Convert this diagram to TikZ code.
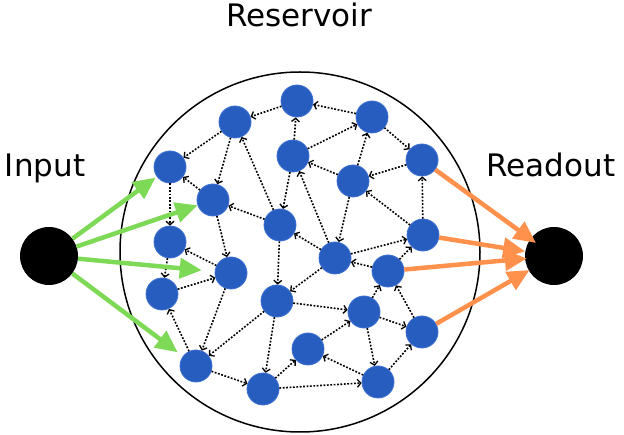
\documentclass[tikz,border=0pt]{standalone}
\usepackage{fontspec}
\setmainfont{DejaVu Sans}
\usetikzlibrary{arrows.meta}
\definecolor{resblue}{RGB}{39,93,190}
\definecolor{resedge}{RGB}{60,110,210}
\definecolor{ingreen}{RGB}{126,217,87}
\definecolor{outorange}{RGB}{255,145,77}
\tikzset{
  neuron/.style={circle,minimum size=32pt,inner sep=0pt,fill=resblue,draw=resedge,line width=0.8pt},
  bignode/.style={circle,minimum size=58pt,inner sep=0pt,fill=black},
  link/.style={line width=1.6pt,dash pattern=on 1.8pt off 1.6pt,-{Straight Barb[length=3.5pt,width=8pt,line width=1.3pt]}},
  inarrow/.style={draw=ingreen,line width=4.5pt,-{Triangle[length=22pt,width=20pt]}},
  outarrow/.style={draw=outorange,line width=4.5pt,-{Triangle[length=22pt,width=20pt]}},
  lbl/.style={font=\fontsize{31}{36}\selectfont,anchor=base,inner sep=0pt}
}
\begin{document}
\begin{tikzpicture}[x=1pt,y=-1pt]
\useasboundingbox (0,0) rectangle (624,435);
\fill[white] (0,0) rectangle (624,435);
% reservoir circle
\node[circle,draw=black,line width=1.5pt,minimum size=360pt,inner sep=0pt] (res) at (300,252) {};
% labels
\node[lbl] (tres) at (299,26.7) {Reservoir};
\node[lbl] (tin) at (45,176.7) {Input};
\node[lbl] (tout) at (551,176.7) {Readout};
% neurons
\node[neuron] (A) at (297,101) {};
\node[neuron] (B) at (235,122) {};
\node[neuron] (C) at (293,156) {};
\node[neuron] (D) at (170,167) {};
\node[neuron] (E) at (213,200) {};
\node[neuron] (F) at (280,225) {};
\node[neuron] (G) at (170,242) {};
\node[neuron] (H) at (372,117) {};
\node[neuron] (I) at (422,160) {};
\node[neuron] (J) at (353,181) {};
\node[neuron] (K) at (423,235) {};
\node[neuron] (L) at (335,258) {};
\node[neuron] (M) at (231,273) {};
\node[neuron] (N) at (162,294) {};
\node[neuron] (O) at (277,301) {};
\node[neuron] (P) at (196,366) {};
\node[neuron] (Q) at (263,389) {};
\node[neuron] (R) at (308,349) {};
\node[neuron] (T) at (388,271) {};
\node[neuron] (U) at (364,312) {};
\node[neuron] (V) at (422,332) {};
\node[neuron] (W) at (378,382) {};
% input / readout
\node[bignode] (in) at (49,256) {};
\node[bignode] (out) at (554,256) {};
% links
\foreach \a/\b in {A/B,B/D,B/E,F/B,C/A,C/F,E/D,D/G,F/E,H/A,C/H,J/C,L/C,L/F,H/I,I/J,J/H,K/I,K/J,J/L,L/K,M/G,G/N,E/M,N/M,P/N,M/P,O/P,P/Q,O/Q,Q/R,F/O,L/O,O/U,Q/W,T/L,T/K,U/T,V/T,U/V,U/W,W/V,R/U,W/R}
  \draw[link] (\a) -- (\b);
% input arrows
\draw[inarrow,shorten >=1.5pt] (in) -- (D);
\draw[inarrow] (in) -- (E);
\draw[inarrow,shorten >=13pt] (in) -- (M);
\draw[inarrow,shorten >=6.5pt] (in) -- (P);
% readout arrows
\draw[outarrow,shorten >=-7pt] (I) -- (out);
\draw[outarrow] (K) -- (out);
\draw[outarrow,shorten >=-2pt] (T) -- (out);
\draw[outarrow,shorten >=-1pt] (V) -- (out);
\end{tikzpicture}
\end{document}
